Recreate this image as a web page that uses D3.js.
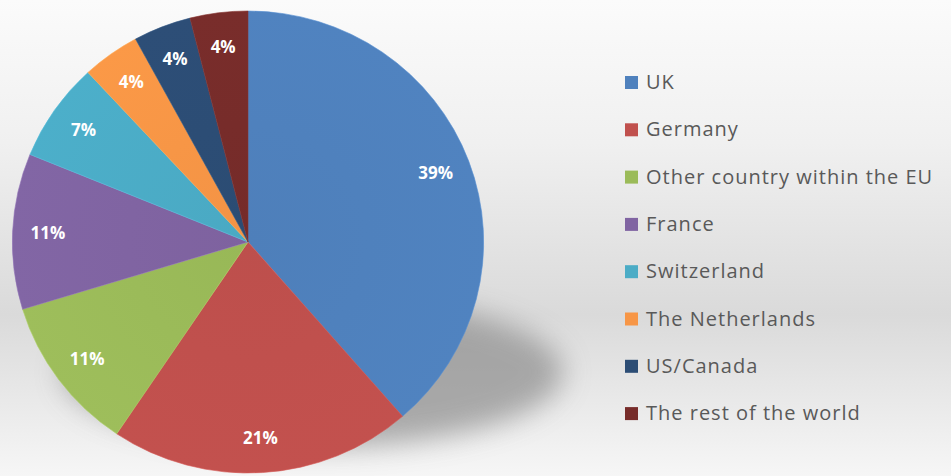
<!DOCTYPE html>
<html>
<head>
<meta charset="utf-8">
<script src="https://cdn.jsdelivr.net/npm/d3@7"></script>
<style>
  body { margin: 0; }
  svg { display: block; }
</style>
</head>
<body>
<div id="chart"><svg width="951" height="476"></svg></div>
<script>
// Data
let categories = ["UK", "Germany", "Other country within the EU", "France",
  "Switzerland", "The Netherlands", "US/Canada", "The rest of the world"];
let values = [39, 21, 11, 11, 7, 4, 4, 4];
let colors = ["#4F81BD", "#C0504D", "#9BBB59", "#8064A2",
  "#4BACC6", "#F79646", "#2C4D75", "#772C2A"];

let svg = d3.select("div#chart svg"),
  width = +svg.attr("width"),
  height = +svg.attr("height");

let defs = svg.append("defs");

// Background gradient
let bg = defs.append("linearGradient")
  .attr("id", "bg")
  .attr("x1", 0).attr("y1", 0).attr("x2", 0).attr("y2", 1);
bg.append("stop").attr("offset", "0%").attr("stop-color", "#fbfbfb");
bg.append("stop").attr("offset", "30%").attr("stop-color", "#f0f0f0");
bg.append("stop").attr("offset", "66%").attr("stop-color", "#dadada");
bg.append("stop").attr("offset", "100%").attr("stop-color", "#f6f6f6");

svg.append("rect")
  .attr("width", width)
  .attr("height", height)
  .attr("fill", "url(#bg)");

// Shadow blur
defs.append("filter")
  .attr("id", "blur")
  .attr("x", "-50%").attr("y", "-50%").attr("width", "200%").attr("height", "200%")
  .append("feGaussianBlur")
  .attr("stdDeviation", 14);

// Slice shading
colors.forEach((c, i) => {
  let grad = defs.append("radialGradient")
    .attr("id", "slice" + i)
    .attr("gradientUnits", "userSpaceOnUse")
    .attr("cx", 0).attr("cy", 0).attr("r", 236);
  grad.append("stop").attr("offset", "0%").attr("stop-color", d3.color(c).darker(0.05));
  grad.append("stop").attr("offset", "100%").attr("stop-color", d3.color(c).brighter(0.05));
});

let cx = 248, cy = 242, radius = 231;

// Shadow under the pie
svg.append("ellipse")
  .attr("cx", cx + 65)
  .attr("cy", cy + 130)
  .attr("rx", 250)
  .attr("ry", 75)
  .attr("fill", "#8c8c8c")
  .attr("opacity", 0.7)
  .attr("filter", "url(#blur)");

let pie = d3.pie().sort(null).value(d => d);
let arcs = pie(values);

let arc = d3.arc().innerRadius(0).outerRadius(radius);
let labelArc = d3.arc().innerRadius(radius * 0.85).outerRadius(radius * 0.85);

let g = svg.append("g")
  .attr("transform", "translate(" + cx + "," + cy + ") scale(1.02,1)");

g.selectAll("path.slice")
  .data(arcs)
  .enter()
  .append("path")
    .attr("class", "slice")
    .attr("d", arc)
    .attr("fill", (d, i) => "url(#slice" + i + ")")
    .attr("stroke", (d, i) => d3.color(colors[i]).brighter(0.3))
    .attr("stroke-width", 0.6);

// Percentage labels
svg.append("g")
  .attr("transform", "translate(" + cx + "," + cy + ")")
  .selectAll("text.label")
  .data(arcs)
  .enter()
  .append("text")
    .attr("class", "label")
    .attr("transform", d => {
      let c = labelArc.centroid(d);
      return "translate(" + (c[0] * 1.02) + "," + c[1] + ")";
    })
    .attr("dy", "0.35em")
    .style("text-anchor", "middle")
    .style("font-family", "'Open Sans', sans-serif")
    .style("font-weight", "bold")
    .style("font-size", "17px")
    .style("fill", "white")
    .text(d => d.data + "%");

// Legend
let legend = svg.append("g")
  .attr("class", "legend")
  .attr("transform", "translate(625,82)");

let row = legend.selectAll("g")
  .data(categories)
  .enter()
  .append("g")
    .attr("transform", (d, i) => "translate(0," + (i * 47.3) + ")");

row.append("rect")
  .attr("x", 0)
  .attr("y", -6)
  .attr("width", 13)
  .attr("height", 13)
  .attr("fill", (d, i) => colors[i]);

row.append("text")
  .attr("x", 21)
  .attr("dy", "0.35em")
  .style("font-family", "'Open Sans', sans-serif")
  .style("font-size", "20px")
  .style("letter-spacing", "1px")
  .style("fill", "#595959")
  .text(d => d);
</script>
</body>
</html>
